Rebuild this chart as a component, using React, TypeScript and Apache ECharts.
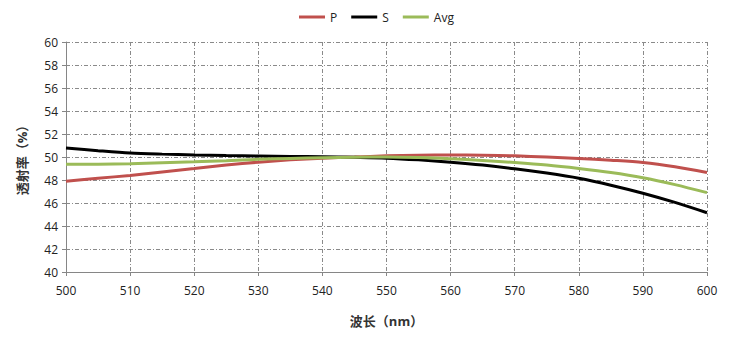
import React, { useEffect, useRef } from "react";
import * as echarts from "echarts";

const wavelengths = [500, 505, 510, 515, 520, 525, 530, 535, 540, 545, 550, 555, 560, 565, 570, 575, 580, 585, 590, 595, 600];
const pValues = [47.9, 48.15, 48.4, 48.7, 49.0, 49.3, 49.55, 49.75, 49.9, 50.0, 50.1, 50.15, 50.17, 50.15, 50.1, 50.0, 49.88, 49.72, 49.52, 49.15, 48.65];
const sValues = [50.78, 50.55, 50.35, 50.25, 50.18, 50.12, 50.08, 50.05, 50.02, 49.97, 49.9, 49.75, 49.55, 49.3, 48.98, 48.6, 48.15, 47.55, 46.85, 46.05, 45.15];
const avgValues = [49.37, 49.38, 49.42, 49.5, 49.58, 49.68, 49.8, 49.88, 49.94, 49.98, 50.0, 49.95, 49.85, 49.7, 49.52, 49.3, 49.0, 48.65, 48.2, 47.6, 46.9];
const seriesNames = ["P", "S", "Avg"];

export default function App() {
  const ref = useRef<HTMLDivElement>(null);
  useEffect(() => {
    if (!ref.current) return;
    const chart = echarts.init(ref.current, null, { renderer: "svg" });
    const font = "'Open Sans', 'Noto Sans CJK SC', sans-serif";
    const gridLine = { show: true, lineStyle: { color: "#8a8a8a", width: 1, type: [4, 2, 1, 2] as any } };
    const mk = (name: string, vals: number[], color: string) => ({
      name,
      type: "line",
      data: wavelengths.map((w, i) => [w, vals[i]]),
      showSymbol: false,
      smooth: 0.3,
      lineStyle: { color, width: 3 },
      itemStyle: { color },
    });
    chart.setOption({
      animation: false,
      textStyle: { fontFamily: font },
      legend: {
        data: seriesNames,
        top: 6,
        left: 294,
        itemWidth: 26,
        itemHeight: 3,
        itemGap: 14,
        icon: "rect",
        textStyle: { fontSize: 12, color: "#222", fontFamily: font },
      },
      grid: { left: 66, right: 22, top: 42, bottom: 74 },
      xAxis: {
        type: "value",
        min: 500,
        max: 600,
        interval: 10,
        name: "波长（nm）",
        nameLocation: "middle",
        nameGap: 42,
        nameTextStyle: { fontSize: 13, fontWeight: "bold", color: "#333", fontFamily: font },
        axisLine: { lineStyle: { color: "#868686" } },
        axisTick: { show: true, length: 4, lineStyle: { color: "#868686" } },
        axisLabel: { fontSize: 12, color: "#222", margin: 12 },
        splitLine: gridLine,
      },
      yAxis: {
        type: "value",
        min: 40,
        max: 60,
        interval: 2,
        name: "透射率（%）",
        nameLocation: "middle",
        nameRotate: 90,
        nameGap: 38,
        nameTextStyle: { fontSize: 13, fontWeight: "bold", color: "#333", fontFamily: font },
        axisLine: { show: true, lineStyle: { color: "#868686" } },
        axisTick: { show: true, length: 4, lineStyle: { color: "#868686" } },
        axisLabel: { fontSize: 12, color: "#222", margin: 8 },
        splitLine: gridLine,
      },
      series: [
        mk("P", pValues, "#C0504D"),
        mk("S", sValues, "#000000"),
        mk("Avg", avgValues, "#9BBB59"),
      ],
    });
    return () => chart.dispose();
  }, []);
  return <div ref={ref} style={{ width: 729, height: 346, position: "absolute", left: 0, top: 0 }} />;
}
